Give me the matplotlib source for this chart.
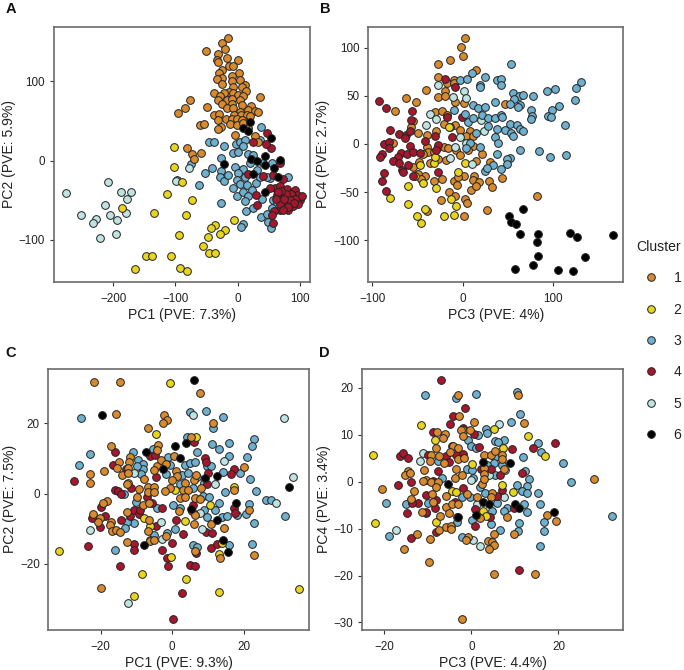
import matplotlib
matplotlib.use("Agg")
import matplotlib.pyplot as plt
from matplotlib.lines import Line2D
plt.rcParams['font.family'] = ['Liberation Sans', 'DejaVu Sans']

CLUSTERS = ['1', '2', '3', '4', '5', '6']
COLORS = {'1': '#D98A2E', '2': '#E9D41E', '3': '#6FB0CF', '4': '#A6172D', '5': '#BFE3E0', '6': '#000000'}

# Panel A: PC1, PC2
A1 = [(-15,155),(-25,149),(-51,138),(-20,141),(-31,135),(-18,130),(-34,127),(-32,124),(0,127),(-14,120),(-8,120),(-25,115),(-30,111),(2,111),(-10,107),(-25,104),(-33,103),(4,102),(-9,100),(-25,97),(11,95),(-7,93),(7,93),(13,88),(-38,86),(-14,87),(-22,85),(-7,85),(-28,81),(1,83),(9,82),(36,80),(-76,77),(-84,67),(-96,60),(-50,68),(-31,77),(-18,77),(-9,78),(4,77),(-26,71),(-10,71),(6,70),(21,69),(-18,67),(-7,66),(17,64),(27,63),(33,61),(4,62),(-38,58),(-30,59),(-6,58),(5,58),(14,58),(19,57),(-31,51),(-19,53),(-10,52),(-2,53),(6,51),(-60,45),(-55,46),(-27,43),(-32,40),(-12,46),(-2,45),(8,47),(-4,32),(16,41),(27,31),(33,24),(-82,16),(-73,9),(-59,10),(-70,2)]
A2 = [(-102,17),(-103,-8),(-90,-27),(-113,-42),(-74,-50),(-186,-60),(-134,-66),(-83,-69),(-6,-75),(-36,-81),(-43,-85),(-20,-87),(-29,-92),(-48,-96),(-94,-94),(-56,-107),(-47,-117),(-36,-117),(-147,-120),(-137,-120),(-107,-120),(-93,-135),(-82,-139),(-165,-136)]
A3 = [(37,43),(-46,24),(-38,23),(-22,19),(-3,21),(4,24),(12,26),(35,26),(-7,10),(1,11),(9,18),(17,9),(-27,4),(25,7),(-75,-4),(-41,-9),(-52,-15),(-98,-24),(-63,-31),(-27,-13),(-29,-21),(-22,-26),(-16,-18),(-4,-8),(9,-10),(1,-16),(12,-20),(-2,-24),(4,-29),(-7,-35),(14,-31),(29,-28),(22,-37),(-1,-45),(9,-40),(17,-45),(12,-51),(39,-48),(-27,-53),(13,-64),(24,-60),(37,-71),(47,-67),(49,-77),(53,-85),(8,-80),(5,-83),(57,-50),(63,-54),(55,-60),(52,-22),(80,-21),(41,-3),(55,-3),(36,-20),(47,-20),(20,-3),(30,-12)]
A4 = [(47,35),(53,16),(45,21),(25,23),(68,-3),(17,-17),(57,-18),(73,-23),(41,-19),(29,-43),(30,-56),(60,-35),(68,-32),(79,-36),(89,-39),(97,-45),(89,-45),(79,-48),(71,-45),(100,-50),(95,-52),(84,-54),(73,-56),(68,-62),(81,-62),(58,-63),(57,-79),(52,-35),(92,-37),(95,-43),(103,-45),(87,-43),(76,-52),(97,-54),(63,-43),(67,-54),(55,-69),(85,-42),(92,-48),(78,-42),(83,-50),(88,-57),(74,-48),(70,-38),(65,-40),(90,-53),(80,-58),(62,-48),(72,-62)]
A5 = [(-276,-41),(-209,-27),(-188,-39),(-171,-39),(-178,-48),(-213,-56),(-252,-69),(-205,-68),(-179,-66),(-194,-75),(-228,-74),(-232,-79),(-196,-92),(-221,-98),(-79,-9),(-99,-26)]
A6 = [(20,49),(9,41),(16,38),(53,28),(44,6),(21,2),(30,-1),(-22,-4),(44,-5),(67,1),(58,-9),(24,-17),(65,-20),(44,-40)]

# Panel B: PC3, PC4
B1 = [(3,110),(-2,101),(0,91),(-27,83),(-14,87),(15,77),(-27,70),(-10,66),(-17,63),(-10,63),(-41,56),(-19,55),(-27,49),(-20,50),(-63,48),(-52,44),(-9,44),(2,43),(47,42),(-75,34),(-31,33),(-23,34),(-17,30),(-55,24),(-21,21),(-8,20),(-57,18),(-29,13),(-14,18),(-49,11),(-40,9),(-3,15),(8,13),(4,8),(12,8),(-77,1),(-40,-3),(-27,-3),(-21,-3),(-16,-4),(12,-2),(-38,-8),(-44,-10),(-32,-8),(-7,-6),(6,-6),(-3,-11),(21,-10),(-48,-19),(-36,-20),(-27,-16),(-18,-17),(15,-18),(30,-19),(-55,-24),(-42,-33),(-49,-31),(-46,-36),(-32,-38),(-23,-36),(-10,-38),(2,-33),(-5,-34),(13,-33),(11,-37),(18,-39),(29,-38),(32,-45),(44,-35),(-6,-43),(9,-48),(-15,-50),(-8,-54),(15,-44),(-24,-58),(3,-57),(5,-61),(82,-54),(27,-69),(-40,-70),(2,-75)]
B2 = [(-80,-56),(-61,-44),(-61,-62),(-42,-68),(-50,-75),(-46,-82),(-21,-75),(-10,-74),(-7,-64),(-13,-57),(-30,-46),(-44,-41),(-53,-33),(-5,-29),(3,-20),(-15,18),(-32,-20),(-31,-13),(-47,-22)]
B3 = [(54,83),(10,74),(25,70),(-3,66),(5,67),(19,61),(19,59),(38,66),(43,67),(42,61),(131,64),(125,58),(124,46),(93,55),(102,57),(56,53),(62,50),(67,51),(78,50),(57,47),(36,44),(52,42),(64,41),(61,38),(11,41),(17,37),(25,38),(-10,35),(107,39),(99,35),(76,35),(77,29),(76,26),(95,29),(98,28),(113,20),(3,31),(6,23),(12,27),(21,30),(28,27),(36,27),(43,30),(44,28),(52,21),(60,20),(63,16),(67,13),(28,19),(38,16),(47,15),(54,11),(56,8),(15,11),(36,7),(39,1),(19,-3),(8,1),(4,-4),(38,-10),(64,-6),(85,-7),(97,-14),(115,-11),(52,-15),(49,-16),(49,-21),(43,-26),(34,-22),(25,-28),(27,-25)]
B4 = [(-93,45),(-85,37),(-56,34),(-20,67),(-8,59),(-57,25),(-17,28),(-1,28),(-80,15),(-70,10),(-63,9),(-58,13),(-64,6),(-87,0),(-82,2),(-82,-4),(-42,3),(-31,8),(-12,7),(-58,-2),(-89,-10),(-91,-13),(-68,-9),(-72,-13),(-62,-10),(-55,-8),(-47,-9),(-77,-18),(-70,-20),(-60,-22),(-67,-27),(-66,-29),(-87,-30),(-89,-38),(-85,-49),(-55,-33),(-27,-29),(-27,-1),(-30,-6)]
B5 = [(-27,61),(1,55),(4,48),(-11,49),(-36,31),(-29,26),(-41,20),(-3,7),(-8,-3),(-14,-15),(10,-21),(20,25),(24,13),(4,1)]
B6 = [(67,-67),(51,-75),(53.5,-81),(59,-83),(63.5,-93),(83,-93),(119,-92),(127,-97),(166,-95),(82,-102),(83,-116),(136,-117),(78,-126),(58,-130),(106,-131),(122,-132)]

# Panel C: PC1, PC2
C1 = [(-21.8,31.6),(-14.6,31.6),(7.9,28.6),(-15.8,22.5),(-2.2,22.3),(-1.5,21),(-2.6,20.2),(11.4,20.1),(-6.8,18.5),(5.4,16.2),(-17,13.5),(-4,13.8),(-4.3,12.4),(-11.8,10.5),(-14.7,9.1),(-12.1,9.1),(-12.2,7.2),(-15.5,7.2),(-18.9,6.4),(-22.8,5.5),(-14.1,5.3),(-12.2,5.8),(-23,2.9),(-12.7,2.7),(-7.7,4.1),(-4.3,7.9),(-4.9,6.7),(-3,9.6),(0.6,10.8),(-1.8,8.3),(1,6.5),(1.3,5),(0.1,3.9),(6.2,3.9),(6.6,5.3),(3.5,2.9),(8.2,1.5),(-6.6,2),(-5,2),(-9.1,1.3),(-0.6,1.5),(-2,0.8),(3.2,1),(4.6,1),(-9.9,-0.9),(-6.8,0.3),(-5,0.3),(6.4,-1.3),(2.2,-1.3),(3.6,-0.9),(7.8,-1.6),(17.4,0.9),(20,7.5),(21.4,-4.6),(-18.3,-2.1),(-19.2,-2.7),(-8,-3.2),(-6.4,-2.6),(2,-5.1),(5.5,-5.1),(6.4,-6.1),(10.8,-8.7),(-22.1,-5.9),(-20.1,-7),(-20.6,-8),(-12.7,-5.3),(-17.2,-8),(-17.4,-8.9),(-16.9,-10.7),(-15.8,-10.3),(-14.6,-10.8),(-6.8,-10.6),(-6.3,-7.5),(-6.2,-13.5),(-5,-13.3),(-12.7,-13.8),(-1.8,-12.2),(6.2,-8.6),(14.6,-9.7),(6.4,-16.2),(13.4,-18.3),(22.8,-17.4),(-19.8,-26.8)]
C2 = [(-0.6,31.3),(-4.4,16.8),(6.7,16.1),(-12.2,2.9),(17.2,1.9),(0.9,1),(10.6,-3.3),(-7.8,-7),(-6.2,-9.2),(3.7,-7.9),(-31.5,-16.2),(14.1,-14.1),(13.2,-17.2),(-0.4,-18),(-8.3,-22.9),(3.9,-24.4),(-10.7,-29),(13.1,-27.9),(35.4,-27.2),(-6.2,-13.2)]
C3 = [(-25.5,21.6),(4.9,23.2),(9.4,23.5),(14.3,21.8),(11.6,18.7),(4.1,16.2),(15.9,14.4),(23,15.4),(22.4,13.5),(11.2,14.1),(13.2,12.8),(6.9,11.9),(20.9,10.5),(15.9,10.8),(-22.9,11.3),(-26,8.2),(-11,11.7),(-9.4,9.6),(-8,8.4),(-8,6.9),(-9.9,7.7),(-8.7,5.6),(-5.2,12.6),(-1,10.3),(-0.6,8.1),(3.6,8.2),(4.9,8.8),(6.3,8.9),(9.7,7.7),(10.8,7.9),(14.2,6.1),(19,5.8),(21.9,4.2),(-1.8,5.5),(2.7,5.3),(4.6,5.8),(6.9,4.8),(9,2.9),(23.4,0.6),(14.8,0.3),(26.2,-1.9),(27.6,-1.9),(21.5,-3),(13.2,-2.7),(8.8,-0.6),(10.4,-0.9),(-13.4,-0.2),(2.1,2.7),(6,1.5),(0.4,-3.2),(2.2,-4),(9,-4.6),(12,-4.6),(9.9,-6.8),(13.9,-6.8),(15.5,-6.5),(18.3,-6.1),(20.7,-5.8),(31.6,-6.5),(23,-8.4),(-10.6,-8.4),(-12.7,-8),(-13.1,-9.9),(0.7,-10.2),(-5,-11.8),(-16,-16.1),(22.5,-14.3),(16,-14.7),(6,-14.5),(6.9,-15.3),(-1.5,-11.3),(-10.1,-2.3),(-4.1,-4.2)]
C4 = [(-16,11.8),(-16.4,8.1),(-13,7),(-6.2,10.8),(-4.7,11),(-4.5,4.8),(-27.4,3.7),(-16,0.9),(-15,0.6),(-14.4,-0.2),(-11.4,1.5),(-19.9,-3.7),(-18.8,-6.3),(-22.5,-7),(-20.1,-9.6),(-14.3,-7.5),(-11.8,-6.5),(-10.6,-4.6),(-9.2,-5.8),(-9,-4.8),(9.1,10),(9.4,8.9),(10.2,5.8),(9.9,2.7),(17.2,7),(16.5,5.5),(17.4,-4),(17.5,-5.4),(6.2,14.7),(-7.1,-0.9),(-5.7,-2.7),(-2.7,-4.2),(-4.6,-9.2),(1,-7.5),(3.2,-11.5),(9.4,-10.8),(11.2,-11.3),(-23.5,-14.8),(-10.5,-14.3),(-10.5,-16),(-0.1,-14.1),(-2.8,-16.1),(-1.3,-18.2),(-1.2,-20.7),(4.9,-20.2),(6.4,-20.5),(-14.6,-20.7),(10.8,-15.6),(12.5,-14.4),(6.6,-16.8),(2.7,-28.2),(0.2,-35.6),(6,-3.2)]
C5 = [(5.9,22.2),(31.4,21.4),(33.8,4.8),(14.5,9.3),(12,2.8),(-10.5,5.8),(29.1,-2.8),(-23,-10.5),(-3,-8.2),(-2.7,-13),(8.5,-10.2),(7.8,-5.6),(-12.3,-31)]
C6 = [(6.2,32.2),(-19.7,22.2),(0.7,13.6),(3.8,14.4),(-7.3,11.8),(2.3,10.2),(-2.6,7.1),(12.7,5.1),(9.1,4.4),(32.6,1.9),(18,-2.7),(5.4,-4.5),(12.5,-7.4),(14.4,-13.3),(15.6,-16.5),(-7.7,-14.7)]

# Panel D: PC3, PC4
D1 = [(-3,18.5),(10.8,18.5),(-2.8,14),(0.7,12.7),(12.2,12.6),(-7.9,10.7),(-6.1,10.2),(-6.6,9.4),(-2.4,11),(-0.2,11),(-1.8,9.8),(-8,7.3),(-4.1,7.6),(-3,7.3),(-4.9,6.4),(2.9,5.8),(4.5,5.8),(7,5.8),(5.5,6.6),(-9.3,5.7),(-7.4,5.5),(-9.5,4.5),(-6.2,4.1),(-3,4.8),(-1.6,5),(7,4.9),(-10.9,2.5),(-14.6,2.3),(-15.2,1.4),(-14.1,1.9),(-3.5,2.8),(7.6,2.8),(3,3),(-3.7,0.8),(-2.1,1.4),(-10.5,0.3),(-11,0.2),(-9.3,0),(-7.6,0),(-8,-1.2),(2.8,1.6),(2.5,-0.4),(3,0.5),(28.1,0.5),(-20.5,-1.6),(-13.1,-1.9),(-13.8,-3.7),(-9,-2.7),(-5.7,-3.1),(-8.9,-4.3),(-1.1,-2.7),(1.2,-3.3),(4.7,-2.5),(4.5,-3.2),(-5.8,-5.3),(-4.5,-4.8),(-3,-4.8),(-11.4,-6.4),(-7.2,-7.2),(-5.1,-6.7),(2.1,-7.7),(8.1,-7.5),(17.4,-7.1),(19.5,-8.3),(-7.4,-10.3),(-5.9,-9.6),(-4.6,-9.4),(-4.7,-10.1),(-12.4,-11.2),(-9.5,-12.2),(-15.4,-14.3),(5.3,-11.2),(9.7,-11.2),(-0.8,-11.7),(-1.2,-12.4),(3.9,-12.6),(4.8,-12.8),(5.1,-13.5),(4.1,-14.3),(-9.7,-17),(5.1,-19.6),(14.6,-19.7),(-2.1,-29.3),(-3.4,-7.6)]
D2 = [(-22.5,5.8),(-11.6,12),(-8.4,8.9),(-1.8,11),(5.1,11.2),(13,9.7),(7.3,7.1),(16.9,5.5),(0.1,3.7),(7.1,-0.6),(9.5,-2.1),(-4.5,-1.9),(-3.6,-2.1),(-22.1,-8.8),(-8.1,-8.6),(2.6,-6.2),(3.3,-7.3)]
D3 = [(-10.7,18.6),(-3.6,17.8),(1.1,18.8),(10.4,19.2),(11.2,14.5),(9.1,12.8),(3.3,11.2),(3.6,10.3),(1.6,9.9),(-0.8,8.9),(7.4,9),(5.4,8.7),(6.1,8.4),(0,7.7),(1.1,7.1),(15.4,8.2),(16,6.3),(11.8,5.2),(5.4,5.3),(21.1,4),(12.3,2.3),(13.3,0.6),(22.8,0),(10.5,-0.6),(12.7,-0.9),(11.6,-2),(12.9,-2.4),(15.3,-2.3),(15.8,-4.7),(12.2,-4.8),(12.7,-6.5),(8.1,-5.7),(7.4,-6.2),(11,-8.7),(16.6,-8.6),(16.6,-10.4),(10.8,-10.5),(6.5,-10.3),(32.4,-7.2),(15.8,-13.7),(-19.6,-4.5),(-15.1,-4.8),(-18.9,-11.6),(-9.9,-4.6),(-10.3,-6.7),(-7.6,4.4),(-6.7,0.9),(-0.9,2.8),(0.2,2.6),(0.5,0.9),(2,-1.1),(3.1,-2.3),(-0.3,-3.2),(-2.1,-3.3),(5.8,-4.6),(4.7,-6.3),(4.6,-9),(0.1,-8.2),(-3.2,-8.5),(-2.2,-11.7),(5.1,3.9),(7,3.6),(3.5,3.6),(5.4,1.4)]
D4 = [(-7,21.6),(-1.5,15.8),(-4.1,14.1),(-4.8,12.4),(-8.7,10.7),(-1.8,11.4),(0.6,10.2),(-16.4,5.5),(-15.7,6.2),(-14.5,5),(-16.9,-0.6),(-13.8,0),(-14.8,-6.6),(-13.8,-11.9),(-12.2,-4.5),(-13.7,-4.6),(-9.9,5.7),(-5.9,5.5),(-3.6,5.7),(-1.8,6),(-4.4,7.6),(1.8,7.4),(9.3,7),(14.2,7.1),(19.2,8.3),(-7.7,2.3),(-5.1,4.2),(2.3,2.8),(4.5,2.8),(6.6,1.5),(11.6,1.8),(-2,-1.3),(-10.3,-2.8),(-8,-3.8),(-8.3,-5.5),(-10.5,-6.5),(-8.2,-10.7),(-3.8,-4.4),(0.8,-5.9),(0.8,-9.4),(4.4,-7.5),(6,-3),(7,-1.8),(9.8,-5.5),(11,-18.8),(-8.7,0.1)]
D5 = [(-11.1,6.2),(-11.8,4.5),(6.3,12.3),(-17.3,-10.3),(0.5,-12.4),(2.1,-13.7),(4.1,1.4),(7.7,2.5),(1.2,-4.8),(7.6,-3.2),(-0.1,0.4)]
D6 = [(2.6,4.3),(8.9,4),(-5.4,-0.4),(2.6,-4.4),(4.1,-4.7),(10,-4.7),(11,-5.7),(19.1,-6.4),(-3.1,-7.5),(1,-7.1)]

W, H = 684, 670
fig = plt.figure(figsize=(W / 100, H / 100), dpi=100)

MS = 31
EDGE = '#222222'
LABEL_SIZE = 10.1


def panel(box, series, order, xlim, ylim, xt, yt, xl, yl, letter, letter_xy):
    left, right, top, bottom = box
    ax = fig.add_axes([left / W, 1 - bottom / H, (right - left) / W, (bottom - top) / H])
    for c in order:
        pts = series[int(c) - 1]
        ax.scatter([p[0] for p in pts], [p[1] for p in pts], s=MS, c=COLORS[c],
                   edgecolors=EDGE, linewidths=0.7, zorder=3)
    ax.set_xlim(*xlim)
    ax.set_ylim(*ylim)
    ax.set_xticks(xt)
    ax.set_yticks(yt)
    ax.set_xticklabels([str(v).replace('-', '\u2212') for v in xt])
    ax.set_yticklabels([str(v).replace('-', '\u2212') for v in yt])
    ax.tick_params(labelsize=8.4, length=3.2, width=0.8, color='#333333', labelcolor='#222222')
    ax.tick_params(axis='x', pad=4.5)
    ax.tick_params(axis='y', pad=3)
    for s in ax.spines.values():
        s.set_color('#6b6b6b')
        s.set_linewidth(1.2)
    ax.set_xlabel(xl, fontsize=LABEL_SIZE, labelpad=2.2, color='#222222')
    ax.set_ylabel(yl, fontsize=LABEL_SIZE, labelpad=2.2, color='#222222')
    fig.text(letter_xy[0] / W, 1 - letter_xy[1] / H, letter, fontsize=10.5, fontweight='bold',
             va='center', ha='left', color='#111111')


panel((53.5, 309.5, 26.7, 282), [A1, A2, A3, A4, A5, A6], ['3', '5', '2', '1', '4', '6'],
      (-295.7, 115), (-153, 169), [-200, -100, 0, 100], [-100, 0, 100],
      'PC1 (PVE: 7.3%)', 'PC2 (PVE: 5.9%)', 'A', (5.5, 9))
panel((368, 623.3, 26.7, 282), [B1, B2, B3, B4, B5, B6], ['1', '2', '4', '5', '3', '6'],
      (-104.8, 177.9), (-143.3, 121.8), [-100, 0, 100], [-100, -50, 0, 50, 100],
      'PC3 (PVE: 4%)', 'PC4 (PVE: 2.7%)', 'B', (320, 9))
panel((48.3, 309.3, 368.7, 630), [C1, C2, C3, C4, C5, C6], ['3', '4', '5', '2', '1', '6'],
      (-34.6, 38.4), (-38.8, 35.5), [-20, 0, 20], [-20, 0, 20],
      'PC1 (PVE: 9.3%)', 'PC2 (PVE: 7.5%)', 'C', (5.5, 353))
panel((362, 623.3, 368.7, 630), [D1, D2, D3, D4, D5, D6], ['3', '5', '4', '2', '1', '6'],
      (-25.1, 34.9), (-31.6, 24.1), [-20, 0, 20], [-30, -20, -10, 0, 10, 20],
      'PC3 (PVE: 4.4%)', 'PC4 (PVE: 3.4%)', 'D', (319.5, 353))

handles = [Line2D([], [], ls='', marker='o', ms=5.5, mfc=COLORS[c], mec=EDGE, mew=0.7) for c in CLUSTERS]
leg = fig.legend(handles, CLUSTERS, title='Cluster', frameon=False, fontsize=LABEL_SIZE, title_fontsize=LABEL_SIZE,
                 loc='center left', bbox_to_anchor=(636 / W, 1 - 341 / H), labelspacing=1.24,
                 handletextpad=0.57, borderpad=0, borderaxespad=0, handlelength=2.1, alignment='left')
leg.get_title().set_color('#222222')
for t in leg.get_texts():
    t.set_color('#222222')

fig.savefig('out.png', dpi=100)
